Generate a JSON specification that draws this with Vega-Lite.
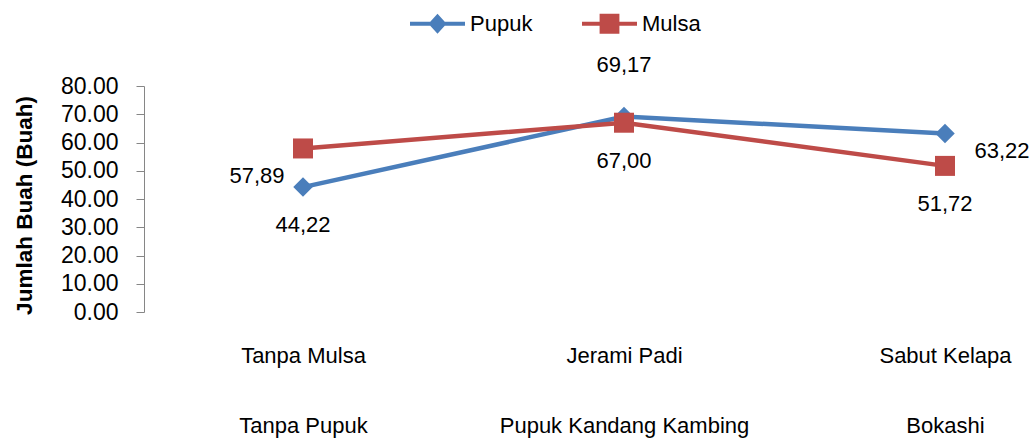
{
  "$schema": "https://vega.github.io/schema/vega-lite/v6.json",
  "autosize": {"type": "none"},
  "padding": {"left": 144, "top": 86, "right": 1, "bottom": 128},
  "width": 890,
  "height": 226,
  "config": {
    "font": "Liberation Sans",
    "view": {"stroke": null},
    "background": "white"
  },
  "data": {
    "values": [
      {"cat": "Tanpa Mulsa|Tanpa Pupuk", "series": "Pupuk", "value": 44.22},
      {"cat": "Jerami Padi|Pupuk Kandang Kambing", "series": "Pupuk", "value": 69.17},
      {"cat": "Sabut Kelapa|Bokashi", "series": "Pupuk", "value": 63.22},
      {"cat": "Tanpa Mulsa|Tanpa Pupuk", "series": "Mulsa", "value": 57.89},
      {"cat": "Jerami Padi|Pupuk Kandang Kambing", "series": "Mulsa", "value": 67.00},
      {"cat": "Sabut Kelapa|Bokashi", "series": "Mulsa", "value": 51.72}
    ]
  },
  "transform": [
    {"calculate": "replace(format(datum.value, '.2f'), '.', ',')", "as": "label"}
  ],
  "encoding": {
    "x": {
      "field": "cat", "type": "nominal", "sort": null,
      "scale": {"type": "point", "range": [159, 801], "padding": 0},
      "axis": {
        "title": null, "domain": false, "ticks": false, "labelAngle": 0,
        "labelExpr": "split(datum.label, '|')",
        "labelFontSize": 22, "labelColor": "#000000", "labelLimit": 400,
        "labelLineHeight": 70, "labelPadding": 33
      }
    },
    "y": {
      "field": "value", "type": "quantitative",
      "scale": {"domain": [0, 80], "nice": false},
      "axis": {
        "title": "Jumlah Buah (Buah)",
        "titleFontSize": 22.5, "titleFontWeight": "bold", "titleColor": "#000000",
        "titleX": -120, "titleY": 119, "titleAngle": 270,
        "titleAlign": "center", "titleBaseline": "middle",
        "values": [0, 10, 20, 30, 40, 50, 60, 70, 80],
        "format": ".2f", "grid": false,
        "domainColor": "#868686", "tickColor": "#868686", "tickSize": 8,
        "labelFontSize": 23, "labelColor": "#000000", "labelPadding": 18
      }
    }
  },
  "layer": [
    {
      "mark": {"type": "line", "strokeWidth": 4.5},
      "encoding": {
        "color": {
          "field": "series", "type": "nominal",
          "scale": {"domain": ["Pupuk", "Mulsa"], "range": ["#4A7EBB", "#BE4B48"]},
          "legend": {
            "title": null, "orient": "none", "direction": "horizontal",
            "legendX": 266, "legendY": -90,
            "labelFontSize": 22, "labelColor": "#000000", "labelOffset": 5,
            "columnPadding": 49, "symbolSize": 3025, "symbolStrokeWidth": 0,
            "encode": {
              "symbols": {
                "update": {
                  "shape": {"signal": "datum.value === 'Pupuk' ? 'M-1,-0.07H1V0.07H-1Z M0,-0.36L0.33,0L0,0.36L-0.33,0Z' : 'M-1,-0.07H1V0.07H-1Z M-0.36,-0.36H0.36V0.36H-0.36Z'"},
                  "size": {"value": 3025},
                  "fill": {"scale": "color", "field": "value"},
                  "fillOpacity": {"value": 1},
                  "strokeWidth": {"value": 0},
                  "opacity": {"value": 1}
                }
              }
            }
          }
        }
      }
    },
    {
      "transform": [{"filter": "datum.series === 'Pupuk'"}],
      "mark": {"type": "point", "filled": true, "opacity": 1, "shape": "diamond", "size": 380},
      "encoding": {"color": {"field": "series", "type": "nominal", "legend": null}}
    },
    {
      "transform": [{"filter": "datum.series === 'Mulsa'"}],
      "mark": {"type": "point", "filled": true, "opacity": 1, "shape": "square", "size": 400},
      "encoding": {"color": {"field": "series", "type": "nominal", "legend": null}}
    },
    {
      "transform": [{"filter": "(datum.series === 'Pupuk' && indexof(datum.cat, 'Tanpa Mulsa') === 0) || (datum.series === 'Mulsa' && indexof(datum.cat, 'Tanpa Mulsa') < 0)"}],
      "mark": {"type": "text", "fontSize": 22, "color": "#000000", "dy": 38, "baseline": "middle"},
      "encoding": {"text": {"field": "label"}}
    },
    {
      "transform": [{"filter": "datum.series === 'Pupuk' && indexof(datum.cat, 'Jerami') === 0"}],
      "mark": {"type": "text", "fontSize": 22, "color": "#000000", "dy": -52, "baseline": "middle"},
      "encoding": {"text": {"field": "label"}}
    },
    {
      "transform": [{"filter": "datum.series === 'Pupuk' && indexof(datum.cat, 'Sabut') === 0"}],
      "mark": {"type": "text", "fontSize": 22, "color": "#000000", "dx": 57, "dy": 18, "baseline": "middle"},
      "encoding": {"text": {"field": "label"}}
    },
    {
      "transform": [{"filter": "datum.series === 'Mulsa' && indexof(datum.cat, 'Tanpa Mulsa') === 0"}],
      "mark": {"type": "text", "fontSize": 22, "color": "#000000", "dx": -46, "dy": 28, "baseline": "middle"},
      "encoding": {"text": {"field": "label"}}
    }
  ]
}
